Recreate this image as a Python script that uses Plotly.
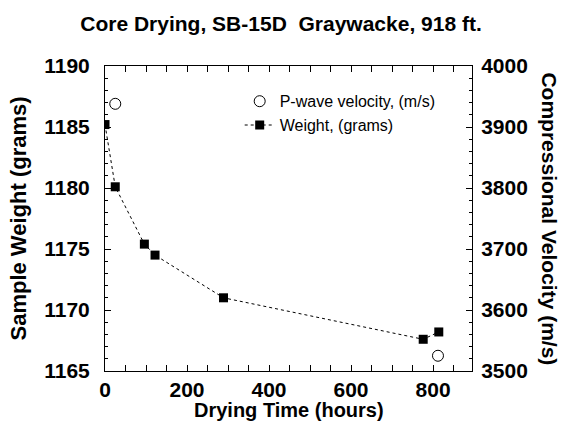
import plotly.graph_objects as go

# weight loss while drying (hours, grams)
hours_w = [0, 25, 96, 122, 289, 776, 814]
weight_g = [1185.2, 1180.1, 1175.4, 1174.5, 1171.0, 1167.6, 1168.2]

# P-wave velocity (hours, m/s)
hours_v = [25, 812]
vel_ms = [3938, 3525]

bold = dict(family='Liberation Sans', size=20, color='black', weight='bold')
tickbold = dict(family='Liberation Sans', size=21, color='black', weight='bold')

fig = go.Figure()
fig.add_trace(go.Scatter(x=hours_v, y=vel_ms, mode='markers', yaxis='y2',
                         name='P-wave velocity, (m/s)',
                         marker=dict(symbol='circle-open', size=11, color='black', line=dict(width=1))))
fig.add_trace(go.Scatter(x=hours_w, y=weight_g, mode='lines+markers',
                         name='Weight, (grams)',
                         line=dict(color='black', width=1, dash='dot'),
                         marker=dict(symbol='square', size=9, color='black')))

axis_common = dict(showgrid=False, zeroline=False, showline=True, linecolor='black', linewidth=1,
                   ticks='inside', ticklen=6, tickcolor='black', tickfont=tickbold,
                   automargin=False)

fig.update_layout(
    width=562, height=428,
    margin=dict(l=105, r=90, t=66, b=57),
    plot_bgcolor='white', paper_bgcolor='white',
    title=dict(text='Core Drying, SB-15D  Graywacke, 918 ft.', x=0.5, xanchor='center', y=0.962,
               font=dict(family='Liberation Sans', size=21, color='black', weight='bold')),
    xaxis=dict(range=[0, 895], dtick=200, mirror='allticks', ticklabelstandoff=0,
               minor=dict(dtick=50, ticks='inside', ticklen=3, tickcolor='black'), **axis_common),
    yaxis=dict(range=[1165, 1190], dtick=5, mirror=True, ticklabelstandoff=10,
               minor=dict(dtick=1, ticks='inside', ticklen=3, tickcolor='black'), **axis_common),
    yaxis2=dict(range=[3500, 4000], dtick=100, overlaying='y', side='right', ticklabelstandoff=4,
                minor=dict(dtick=20, ticks='inside', ticklen=3, tickcolor='black'), **axis_common),
    legend=dict(x=0.367, y=0.94, xanchor='left', yanchor='top', bgcolor='rgba(0,0,0,0)',
                font=dict(family='Liberation Sans', size=16, color='black'), traceorder='normal'),
    showlegend=True,
)

fig.add_annotation(text='Drying Time (hours)', xref='paper', yref='paper', x=0.5, y=-0.128,
                   showarrow=False, font=bold, xanchor='center', yanchor='middle')
fig.add_annotation(text='Sample Weight (grams)', xref='paper', yref='paper', x=-0.237, y=0.5,
                   textangle=-90, showarrow=False, font=dict(bold, size=22),
                   xanchor='center', yanchor='middle')
fig.add_annotation(text='Compressional Velocity (m/s)', xref='paper', yref='paper', x=1.21, y=0.5,
                   textangle=90, showarrow=False, font=dict(bold, size=21),
                   xanchor='center', yanchor='middle')

# the page's default body margin would shift the figure 8px
fig.write_html('out.html', config={'displayModeBar': False},
               post_script="document.body.style.margin='0';")
